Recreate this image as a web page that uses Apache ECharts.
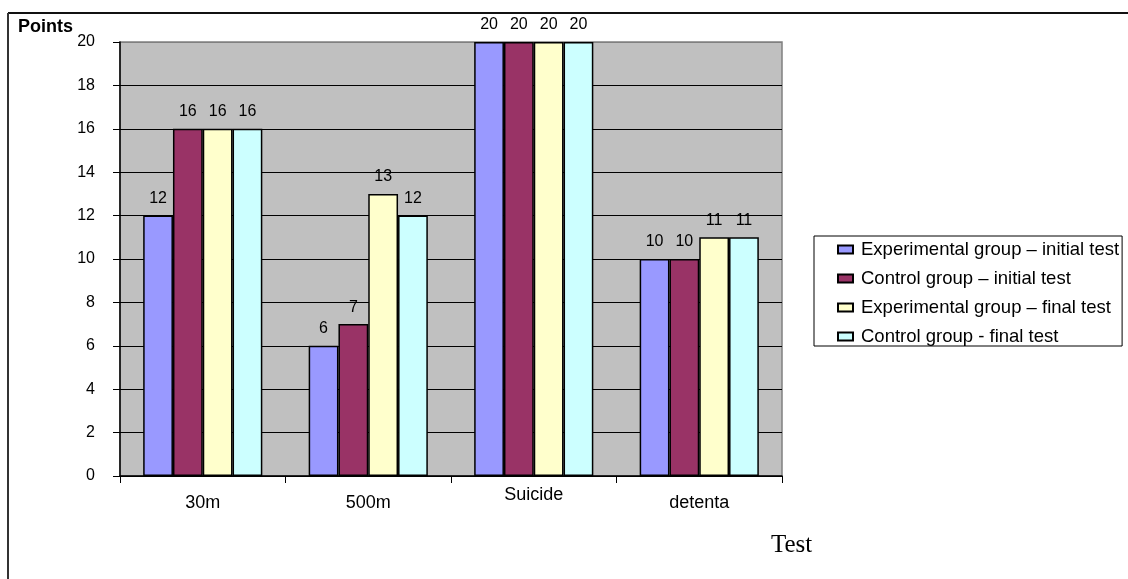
<!DOCTYPE html>
<html>
<head>
<meta charset="utf-8">
<script src="https://cdn.jsdelivr.net/npm/echarts@6/dist/echarts.min.js"></script>
<style>
  html, body { margin: 0; padding: 0; background: #ffffff; }
  #chart { width: 1128px; height: 579px; }
</style>
</head>
<body>
<div id="chart"></div>
<script>
// Test categories along the x axis
const categories = ['30m', '500m', 'Suicide', 'detenta'];

// Points per group and test phase
const expInitial = [12, 6, 20, 10];
const ctrlInitial = [16, 7, 20, 10];
const expFinal = [16, 13, 20, 11];
const ctrlFinal = [16, 12, 20, 11];

const seriesNames = [
  'Experimental group – initial test',
  'Control group – initial test',
  'Experimental group – final test',
  'Control group - final test'
];
const seriesValues = [expInitial, ctrlInitial, expFinal, ctrlFinal];
const seriesColors = ['#9999FF', '#993366', '#FFFFCC', '#CCFFFF'];

// Y axis ticks
const yMin = 0, yMax = 20, yStep = 2;

const FONT = 'Liberation Sans, Arial, sans-serif';

// Grid lines: black, the top one blends into the grey plot border
const gridLineColors = [];
for (let v = yMin; v <= yMax; v += yStep) {
  gridLineColors.push(v === yMax ? '#808080' : '#000000');
}

const chart = echarts.init(document.getElementById('chart'), null, { renderer: 'canvas' });

chart.setOption({
  backgroundColor: '#ffffff',
  animation: false,
  grid: {
    left: 120, right: 346, top: 42, bottom: 103,
    show: true,
    backgroundColor: '#C0C0C0',
    borderColor: '#808080',
    borderWidth: 1.5
  },
  legend: {
    orient: 'vertical',
    left: 814,
    top: 236,
    padding: [4, 3, 0, 23],
    itemGap: 10,
    itemWidth: 15,
    itemHeight: 8,
    borderColor: '#000000',
    borderWidth: 1,
    backgroundColor: '#ffffff',
    icon: 'rect',
    textStyle: { fontFamily: FONT, fontSize: 18.5, color: '#000000', padding: [0, 0, 0, 3] },
    data: seriesNames
  },
  xAxis: {
    type: 'category',
    data: categories,
    boundaryGap: true,
    axisLine: { show: true, lineStyle: { color: '#000000', width: 1.5 } },
    axisTick: { show: true, length: 7, lineStyle: { color: '#000000' } },
    axisLabel: {
      margin: 10,
      fontFamily: FONT,
      fontSize: 18,
      color: '#000000',
      formatter: function (v) {
        return v === 'Suicide' ? v : '{low|' + v + '}';
      },
      rich: { low: { fontFamily: FONT, fontSize: 18, color: '#000000', padding: [8, 0, 0, 0] } }
    },
    splitLine: { show: false }
  },
  yAxis: {
    type: 'value',
    min: yMin,
    max: yMax,
    interval: yStep,
    axisLine: { show: true, lineStyle: { color: '#000000', width: 1.5 } },
    axisTick: { show: true, length: 7, lineStyle: { color: '#000000' } },
    axisLabel: { margin: 25, fontFamily: FONT, fontSize: 16, color: '#000000' },
    splitLine: { show: true, lineStyle: { color: gridLineColors, width: 1 } }
  },
  series: seriesNames.map(function (name, i) {
    return {
      name: name,
      type: 'bar',
      data: seriesValues[i],
      barGap: '0%',
      barCategoryGap: '28%',
      itemStyle: { color: seriesColors[i], borderColor: '#000000', borderWidth: 1.5 },
      label: {
        show: true,
        position: 'top',
        distance: 9,
        fontFamily: FONT,
        fontSize: 16,
        color: '#000000'
      }
    };
  }),
  graphic: [
    // frame around the chart
    { type: 'line', shape: { x1: 8, y1: 13, x2: 1128, y2: 13 }, style: { stroke: '#111111', lineWidth: 2 } },
    { type: 'line', shape: { x1: 8, y1: 13, x2: 8, y2: 579 }, style: { stroke: '#333333', lineWidth: 2 } },
    // axis titles
    { type: 'text', left: 18, top: 18, style: { text: 'Points', fontFamily: FONT, fontWeight: 'bold', fontSize: 18, fill: '#000000' } },
    { type: 'text', left: 771, top: 533, style: { text: 'Test', fontFamily: 'Liberation Serif, Times New Roman, serif', fontSize: 25, fill: '#000000' } }
  ]
});
</script>
</body>
</html>
